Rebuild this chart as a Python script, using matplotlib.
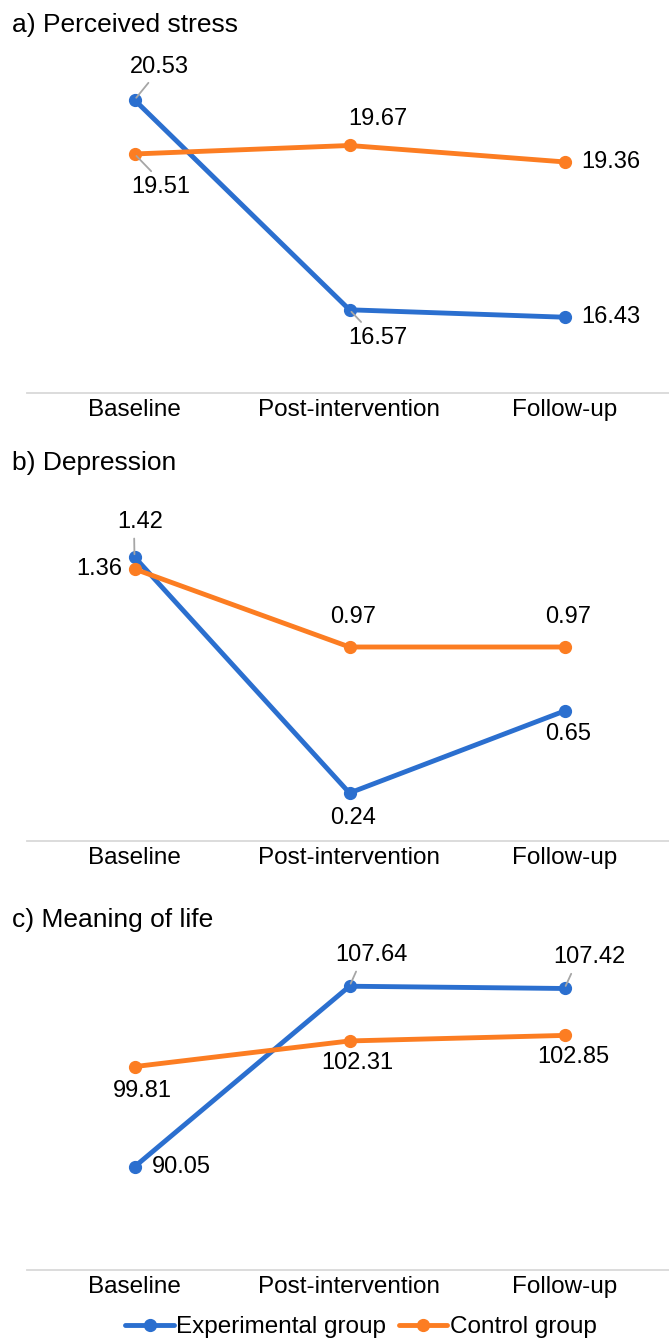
import matplotlib
matplotlib.use("Agg")
import matplotlib.pyplot as plt

plt.rcParams['font.family'] = ['Liberation Sans', 'DejaVu Sans']

# data
timepoints = ["Baseline", "Post-intervention", "Follow-up"]
groups = ["Experimental group", "Control group"]
titles = ["a) Perceived stress", "b) Depression", "c) Meaning of life"]

stress_exp = [20.53, 16.57, 16.43]
stress_ctrl = [19.51, 19.67, 19.36]
dep_exp = [1.42, 0.24, 0.65]
dep_ctrl = [1.36, 0.97, 0.97]
meaning_exp = [90.05, 107.64, 107.42]
meaning_ctrl = [99.81, 102.31, 102.85]

BLUE = '#2b6fcf'
ORANGE = '#fc7d22'
GRID = '#d9d9d9'
LEADER = '#a6a6a6'

W, H = 669, 1340
fig = plt.figure(figsize=(W / 100, H / 100), dpi=100)

# panel layout in pixels: (axes top, axes bottom, title y, ylim)
panels = [
    (75, 393, 25, (15, 21)),
    (521, 841, 463, (0, 1.6)),
    (962, 1270, 920, (80, 110)),
]
AX_LEFT, AX_RIGHT = 27, 672

# label placement per point: (dx px, dy px downwards, ha, leader relpos or None)
label_pos = [
    [  # a) stress
        [(25, -33, 'center', (0.38, 0)), (28, 28, 'center', (0.3, 1)), (17, 0, 'left', None)],
        [(26, 33, 'center', (0.42, 1)), (28, -26, 'center', None), (17, 0, 'left', None)],
    ],
    [  # b) depression
        [(6, -35, 'center', (0.36, 0)), (4, 25, 'center', None), (4, 23, 'center', None)],
        [(-12, 0, 'right', None), (4, -30, 'center', None), (4, -30, 'center', None)],
    ],
    [  # c) meaning of life
        [(17, 0, 'left', None), (22, -31, 'center', (0.32, 0)), (25, -31, 'center', (0.28, 0))],
        [(8, 24, 'center', None), (8, 22, 'center', None), (9, 22, 'center', None)],
    ],
]

series = [(stress_exp, stress_ctrl), (dep_exp, dep_ctrl), (meaning_exp, meaning_ctrl)]

FS = 17
x = list(range(len(timepoints)))

for i, (top, bottom, ty, ylim) in enumerate(panels):
    ax = fig.add_axes([AX_LEFT / W, 1 - bottom / H, (AX_RIGHT - AX_LEFT) / W, (bottom - top) / H])
    ax.set_xlim(-0.5, 2.5)
    ax.set_ylim(*ylim)
    for s in ['top', 'right', 'left']:
        ax.spines[s].set_visible(False)
    ax.spines['bottom'].set_color(GRID)
    ax.spines['bottom'].set_linewidth(1.3)
    ax.set_yticks([])
    ax.set_xticks(x)
    ax.set_xticklabels(timepoints, fontsize=FS + 0.5)
    ax.tick_params(axis='x', length=0, pad=4)
    ax.patch.set_alpha(0)

    for j, (vals, color) in enumerate(zip(series[i], [BLUE, ORANGE])):
        ax.plot(x, vals, color=color, lw=3.5, marker='o', ms=8.5, solid_capstyle='round',
                label=groups[j], zorder=3 + j, clip_on=False)
        for k, v in enumerate(vals):
            dx, dy, ha, rel = label_pos[i][j][k]
            arrow = None
            if rel is not None:
                arrow = dict(arrowstyle='-', color=LEADER, lw=1.3, shrinkA=2, shrinkB=2, relpos=rel)
            ax.annotate(f"{v:.2f}", (k, v), xytext=(dx * 0.72, -dy * 0.72),
                        textcoords='offset points', ha=ha, va='center', fontsize=FS,
                        color='black', arrowprops=arrow, zorder=6, annotation_clip=False)

    fig.text(12 / W, 1 - ty / H, titles[i], fontsize=19, va='center', ha='left')

handles, labels = ax.get_legend_handles_labels()
fig.legend(handles, labels, loc='center', bbox_to_anchor=(361 / W, 1 - 1327 / H), ncol=2,
           frameon=False, fontsize=FS + 0.5, handlelength=2.0, handletextpad=0.1, columnspacing=0.5)

fig.savefig("out.png", dpi=100)
